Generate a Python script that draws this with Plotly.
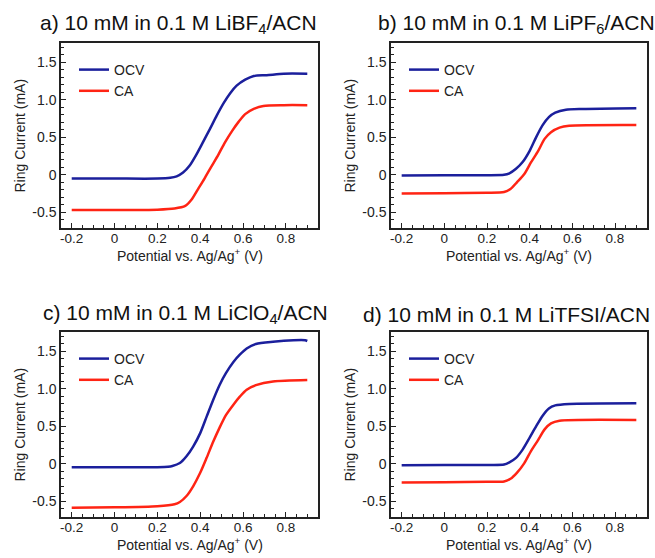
import plotly.graph_objects as go

W, H = 655, 558

# ---------------- data ----------------
a_ocv_x = [-0.2, 0.0, 0.2, 0.26, 0.29, 0.32, 0.35, 0.38, 0.41, 0.445, 0.477, 0.51, 0.54, 0.57, 0.61, 0.65, 0.71, 0.79, 0.9]
a_ocv_y = [-0.05, -0.05, -0.05, -0.04, -0.02, 0.03, 0.12, 0.26, 0.42, 0.61, 0.79, 0.96, 1.09, 1.19, 1.27, 1.32, 1.33, 1.35, 1.35]
a_ca_x = [-0.2, 0.0, 0.2, 0.28, 0.33, 0.36, 0.39, 0.42, 0.45, 0.485, 0.515, 0.55, 0.58, 0.61, 0.65, 0.695, 0.79, 0.9]
a_ca_y = [-0.47, -0.47, -0.465, -0.45, -0.415, -0.33, -0.19, -0.05, 0.10, 0.27, 0.43, 0.59, 0.71, 0.81, 0.88, 0.92, 0.93, 0.93]

b_ocv_x = [-0.2, 0.0, 0.2, 0.28, 0.305, 0.336, 0.367, 0.40, 0.43, 0.46, 0.49, 0.52, 0.57, 0.65, 0.9]
b_ocv_y = [-0.01, -0.005, -0.005, 0.0, 0.02, 0.08, 0.17, 0.32, 0.50, 0.66, 0.77, 0.83, 0.87, 0.88, 0.89]
b_ca_x = [-0.2, 0.0, 0.2, 0.28, 0.31, 0.34, 0.375, 0.406, 0.44, 0.47, 0.50, 0.54, 0.585, 0.9]
b_ca_y = [-0.25, -0.245, -0.24, -0.23, -0.19, -0.10, 0.01, 0.165, 0.32, 0.48, 0.57, 0.63, 0.655, 0.665]

c_ocv_x = [-0.2, 0.0, 0.2, 0.25, 0.27, 0.305, 0.336, 0.367, 0.40, 0.43, 0.46, 0.49, 0.52, 0.555, 0.586, 0.617, 0.66, 0.74, 0.836, 0.89, 0.9]
c_ocv_y = [-0.045, -0.045, -0.045, -0.04, -0.03, 0.01, 0.10, 0.23, 0.41, 0.63, 0.85, 1.05, 1.21, 1.36, 1.46, 1.54, 1.60, 1.63, 1.65, 1.65, 1.64]
c_ca_x = [-0.2, 0.0, 0.2, 0.28, 0.305, 0.336, 0.367, 0.40, 0.43, 0.46, 0.49, 0.52, 0.555, 0.586, 0.617, 0.66, 0.74, 0.9]
c_ca_y = [-0.585, -0.58, -0.565, -0.54, -0.51, -0.43, -0.30, -0.12, 0.08, 0.29, 0.48, 0.65, 0.79, 0.90, 0.99, 1.05, 1.10, 1.12]

d_ocv_x = [-0.2, 0.0, 0.2, 0.28, 0.305, 0.336, 0.367, 0.40, 0.43, 0.46, 0.49, 0.52, 0.586, 0.9]
d_ocv_y = [-0.02, -0.015, -0.015, -0.01, 0.02, 0.08, 0.19, 0.35, 0.50, 0.64, 0.74, 0.78, 0.80, 0.81]
d_ca_x = [-0.2, 0.0, 0.2, 0.28, 0.31, 0.34, 0.375, 0.406, 0.44, 0.47, 0.50, 0.54, 0.9]
d_ca_y = [-0.25, -0.245, -0.24, -0.235, -0.20, -0.12, 0.01, 0.17, 0.32, 0.46, 0.54, 0.575, 0.585]

panel_titles = [
    "a) 10 mM in 0.1 M LiBF<sub>4</sub>/ACN",
    "b) 10 mM in 0.1 M LiPF<sub>6</sub>/ACN",
    "c) 10 mM in 0.1 M LiClO<sub>4</sub>/ACN",
    "d) 10 mM in 0.1 M LiTFSI/ACN",
]
series_names = ["OCV", "CA"]
x_tickvals = [-0.2, 0.0, 0.2, 0.4, 0.6, 0.8]
x_ticktext = ["-0.2", "0", "0.2", "0.4", "0.6", "0.8"]
y_tickvals = [-0.5, 0.0, 0.5, 1.0, 1.5]
y_ticktext = ["-0.5", "0", "0.5", "1.0", "1.5"]
x_title = "Potential vs. Ag/Ag<sup>+</sup> (V)"
y_title = "Ring Current (mA)"

panels = [
    (a_ocv_x, a_ocv_y, a_ca_x, a_ca_y),
    (b_ocv_x, b_ocv_y, b_ca_x, b_ca_y),
    (c_ocv_x, c_ocv_y, c_ca_x, c_ca_y),
    (d_ocv_x, d_ocv_y, d_ca_x, d_ca_y),
]

# ---------------- layout geometry (pixels) ----------------
boxes = [  # left, right, top, bottom
    (61, 318, 43, 228),
    (391, 647, 43, 228),
    (61, 318, 332, 517),
    (391, 647, 332, 517),
]
title_pos = [(178, 24), (516, 24), (185, 314), (506, 314)]

BLUE = "#1b1f9c"
RED = "#ff2414"
FONT = "Liberation Sans, Arial, Helvetica, sans-serif"
INK = "#222"

fig = go.Figure()
layout = dict(
    width=W, height=H,
    margin=dict(l=0, r=0, t=0, b=0),
    paper_bgcolor="white", plot_bgcolor="white",
    font=dict(family=FONT, size=14, color=INK),
    annotations=[],
)

for i, (ox, oy, cx, cy) in enumerate(panels):
    n = "" if i == 0 else str(i + 1)
    leg = "legend" if i == 0 else f"legend{i + 1}"
    fig.add_trace(go.Scatter(x=ox, y=oy, mode="lines", name=series_names[0],
                             line=dict(color=BLUE, width=2.5, shape="spline", smoothing=0.7),
                             xaxis="x" + n, yaxis="y" + n, legend=leg))
    fig.add_trace(go.Scatter(x=cx, y=cy, mode="lines", name=series_names[1],
                             line=dict(color=RED, width=2.5, shape="spline", smoothing=0.7),
                             xaxis="x" + n, yaxis="y" + n, legend=leg))
    l, r, t, b = boxes[i]
    axcommon = dict(showline=True, linecolor=INK, linewidth=1.5, mirror=True,
                    ticks="inside", ticklen=5, tickwidth=1.2, tickcolor=INK,
                    showgrid=False, zeroline=False)
    layout["xaxis" + n] = dict(
        domain=[l / W, r / W], anchor="y" + n, range=[-0.25, 0.95],
        tickmode="array", tickvals=x_tickvals, ticktext=x_ticktext,
        tickfont=dict(size=13.5, color=INK, family=FONT),
        ticklabelstandoff=-3,
        minor=dict(ticks="inside", ticklen=3, tickwidth=1, tickcolor=INK,
                   tickmode="linear", tick0=0, dtick=0.05),
        **axcommon)
    layout["yaxis" + n] = dict(
        domain=[1 - b / H, 1 - t / H], anchor="x" + n, range=[-0.71, 1.76],
        tickmode="array", tickvals=y_tickvals, ticktext=y_ticktext,
        tickfont=dict(size=14, color=INK, family=FONT),
        minor=dict(ticks="inside", ticklen=3, tickwidth=1, tickcolor=INK,
                   tickmode="linear", tick0=0, dtick=0.1),
        **axcommon)
    layout[leg] = dict(x=(l + 13) / W, y=1 - (t + 11) / H, xanchor="left", yanchor="top",
                       bgcolor="rgba(0,0,0,0)", font=dict(size=14, color=INK),
                       tracegroupgap=0, itemwidth=30)
    tx, ty = title_pos[i]
    layout["annotations"].append(dict(
        text=panel_titles[i], x=tx / W, y=1 - ty / H, xref="paper", yref="paper",
        xanchor="center", yanchor="middle", showarrow=False,
        font=dict(size=21, color="#111", family=FONT)))
    # axis titles
    layout["annotations"].append(dict(
        text=x_title, x=0.5, y=1 - (b + 27) / H, xref=("x" + n + " domain"), yref="paper",
        xanchor="center", yanchor="middle", showarrow=False,
        font=dict(size=14, color=INK, family=FONT)))
    layout["annotations"].append(dict(
        text=y_title, x=19 / W + (0 if l < 200 else 330 / W), y=0.5,
        xref="paper", yref=("y" + n + " domain"),
        xanchor="center", yanchor="middle", showarrow=False, textangle=-90,
        font=dict(size=14, color=INK, family=FONT)))

fig.update_layout(**layout)
fig.write_html("out.html")
